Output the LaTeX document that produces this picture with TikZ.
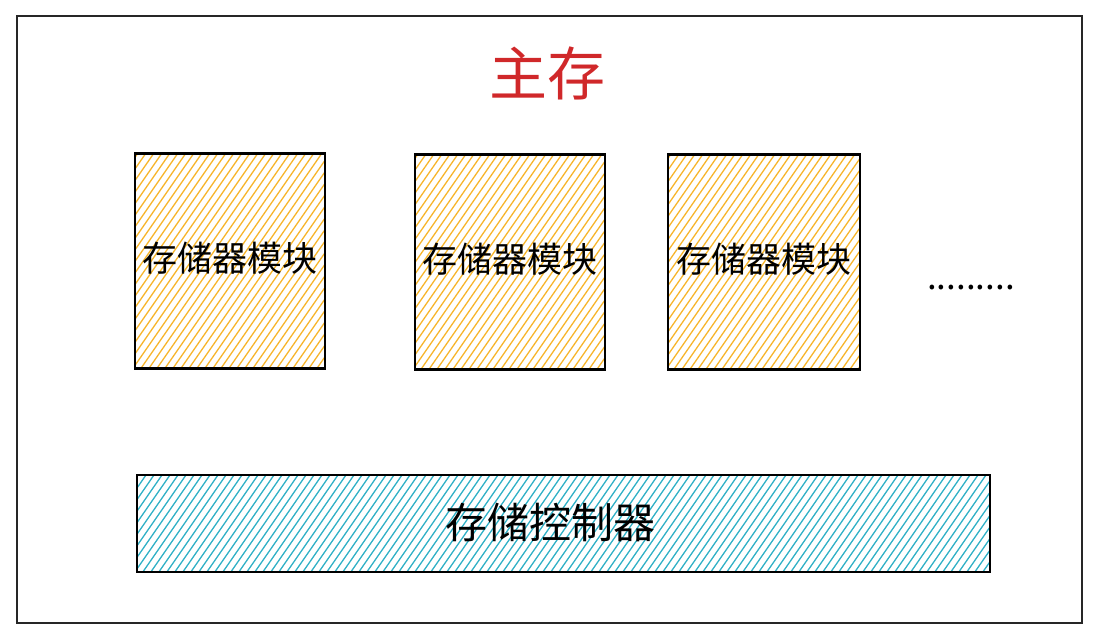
\documentclass[tikz,border=0pt]{standalone}
\usepackage{fontspec}
\setmainfont{Noto Sans CJK SC}
\definecolor{hatchorange}{HTML}{F7B52C}
\definecolor{hatchcyan}{HTML}{2FB0C6}
\definecolor{titlered}{HTML}{D0282A}
\tikzset{
  hatchbox/.style={draw=black, line width=2.2pt, inner sep=0pt,
    path picture={
      \foreach \i in {-30,...,120}
        \draw[#1, line width=1.3pt]
          ($(path picture bounding box.south west)+(\i*8pt,-20pt)$) -- ++(180pt,260pt);
    }},
  memtext/.style={font=\fontsize{35}{40}\selectfont},
}
\usetikzlibrary{calc}
\begin{document}
\begin{tikzpicture}[x=1pt,y=-1pt]
\useasboundingbox (0,0) rectangle (1098,639);
\draw[line width=2.6pt, black!85] (17,16) rectangle (1082,623);
\node[font=\fontsize{58}{64}\selectfont, text=titlered] (title) at (547,73) {主存};
\node[hatchbox=hatchorange, minimum width=190pt, minimum height=215pt] (m1) at (230,261) {};
\node[memtext] at (m1.center) [yshift=3pt] {存储器模块};
\node[hatchbox=hatchorange, minimum width=190pt, minimum height=215pt] (m2) at (510,262) {};
\node[memtext] at (m2.center) [yshift=3pt] {存储器模块};
\node[hatchbox=hatchorange, minimum width=192pt, minimum height=215pt] (m3) at (764,262) {};
\node[memtext] at (m3.center) [yshift=3pt] {存储器模块};
\node[anchor=base west, memtext, inner sep=0pt] (dots) at (927,290) {.........};
\node[hatchbox=hatchcyan, minimum width=853pt, minimum height=97pt] (ctrl) at (563.5,523.5) {};
\node[font=\fontsize{42}{48}\selectfont] at (ctrl.center) [xshift=-13pt, yshift=1pt] {存储控制器};
\end{tikzpicture}
\end{document}
